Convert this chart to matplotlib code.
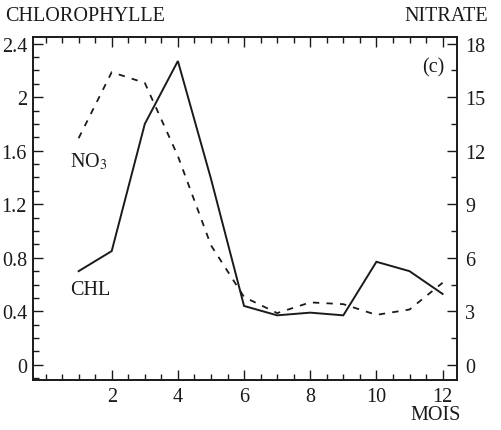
import matplotlib
matplotlib.use("Agg")
import matplotlib.pyplot as plt
from matplotlib.ticker import MultipleLocator

plt.rcParams['font.family'] = ['Liberation Serif', 'DejaVu Serif']
plt.rcParams['mathtext.fontset'] = 'stix'

months = [1, 2, 3, 4, 5, 6, 7, 8, 9, 10, 11, 12]
chl = [0.70, 0.85, 1.80, 2.27, 1.39, 0.44, 0.37, 0.39, 0.37, 0.77, 0.70, 0.53]
no3 = [12.7, 16.4, 15.8, 11.7, 6.7, 3.8, 2.9, 3.5, 3.4, 2.8, 3.1, 4.6]

x_ticks = [2, 4, 6, 8, 10, 12]
chl_ticks = [0, 0.4, 0.8, 1.2, 1.6, 2, 2.4]
chl_labels = ['0', '0.4', '0.8', '1.2', '1.6', '2', '2.4']
no3_ticks = [0, 3, 6, 9, 12, 15, 18]

fig = plt.figure(figsize=(5.02, 4.31), dpi=100)
ax = fig.add_axes([0.065, 0.117, 0.845, 0.795])

ax.plot(months, chl, color='#1a1a1a', lw=1.4, solid_joinstyle='miter')
ax.set_xlim(-0.39, 12.43)
ax.set_ylim(-0.11, 2.45)

ax2 = ax.twinx()
ax2.plot(months, no3, color='#1a1a1a', lw=1.3, dashes=(3.5, 4))
ax2.set_ylim(-0.11 * 7.5, 2.45 * 7.5)

ax.set_xticks(x_ticks)
ax.set_xticklabels([str(t) for t in x_ticks])
ax.xaxis.set_minor_locator(MultipleLocator(0.5))
ax.set_yticks(chl_ticks)
ax.set_yticklabels(chl_labels)
ax.yaxis.set_minor_locator(MultipleLocator(0.1))
ax2.set_yticks(no3_ticks)
ax2.set_yticklabels([str(t) for t in no3_ticks])
ax2.yaxis.set_minor_locator(MultipleLocator(1.5))

ax.tick_params(axis='both', which='both', direction='in', top=True, labelsize=14.5, colors='#1a1a1a')
ax.tick_params(axis='x', which='major', length=7, width=1.0, pad=5)
ax.tick_params(axis='y', which='major', length=7, width=1.0, pad=4)
ax.tick_params(which='minor', length=4, width=1.0)
ax.tick_params(axis='y', right=False)
ax2.tick_params(axis='y', which='both', direction='in', labelsize=14.5, colors='#1a1a1a')
ax2.tick_params(axis='y', which='major', length=7, width=1.0, pad=6)
ax2.tick_params(axis='y', which='minor', length=4, width=1.0)

for a in (ax, ax2):
    for s in a.spines.values():
        s.set_linewidth(1.2)
        s.set_color('#1a1a1a')

fig.text(0.01, 0.962, 'CHLOROPHYLLE', fontsize=14.5, ha='left', va='center', color='#1a1a1a')
fig.text(0.972, 0.962, 'NITRATE', fontsize=14.5, ha='right', va='center', color='#1a1a1a')
fig.text(0.918, 0.037, 'MOIS', fontsize=14.5, ha='right', va='center', color='#1a1a1a')
ax.text(0.97, 0.912, '(c)', transform=ax.transAxes, fontsize=14.5, ha='right', va='center', color='#1a1a1a')
ax.text(1.3, 1.52, r'NO$_3$', fontsize=14.5, ha='center', va='center', color='#1a1a1a')
ax.text(1.35, 0.56, 'CHL', fontsize=14.5, ha='center', va='center', color='#1a1a1a')

fig.savefig('out.png', dpi=100)
